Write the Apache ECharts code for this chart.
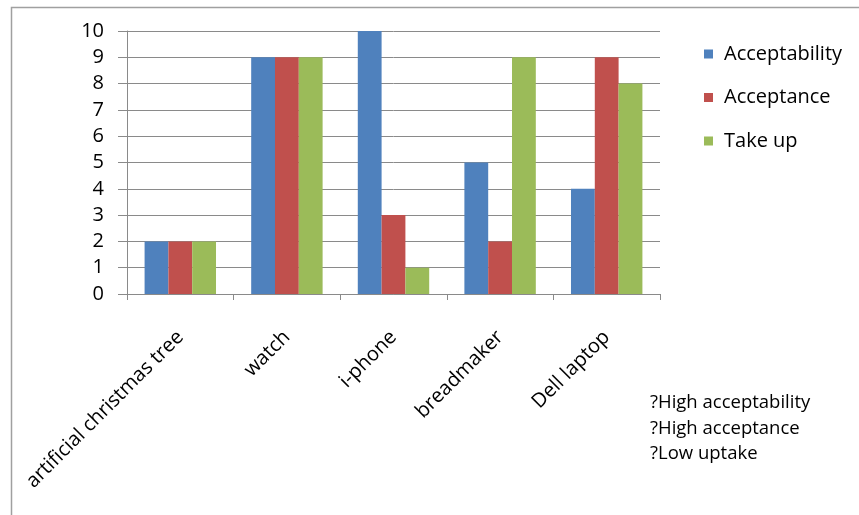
<!DOCTYPE html>
<html>
<head>
<meta charset="utf-8">
<script src="https://cdn.jsdelivr.net/npm/echarts@6/dist/echarts.min.js"></script>
<style>
html,body{margin:0;padding:0;background:#fff;}
#c{width:859px;height:515px;}
</style>
</head>
<body>
<div id="c"></div>
<script>
const categories = ["artificial christmas tree", "watch", "i-phone", "breadmaker", "Dell laptop"];
const acceptability = [2, 9, 10, 5, 4];
const acceptance = [2, 9, 3, 2, 9];
const takeUp = [2, 9, 1, 9, 8];
const yTicks = [0, 1, 2, 3, 4, 5, 6, 7, 8, 9, 10];
const notes = ["?High acceptability", "?High acceptance", "?Low uptake"];

const chart = echarts.init(document.getElementById('c'), null, {renderer: 'canvas'});
const gridColor = '#8a8a8a';
chart.setOption({
  animation: false,
  backgroundColor: '#fff',
  color: ['#4F81BD', '#C0504D', '#9BBB59'],
  grid: {left: 127, top: 31, right: 199, bottom: 221, containLabel: false},
  legend: {
    orient: 'vertical', left: 704, top: 44, padding: 0,
    itemWidth: 9, itemHeight: 9, itemGap: 23.5, icon: 'rect',
    textStyle: {fontFamily: 'Open Sans', fontSize: 20, color: '#000', padding: [0, 0, 0, 6]},
    data: ['Acceptability', 'Acceptance', 'Take up']
  },
  xAxis: {
    type: 'category', data: categories,
    axisLine: {lineStyle: {color: gridColor, width: 1}},
    axisTick: {show: true, length: 6, alignWithLabel: false, lineStyle: {color: gridColor}},
    axisLabel: {rotate: 45, margin: 40, interval: 0, fontFamily: 'Open Sans', fontSize: 20, color: '#000'}
  },
  yAxis: {
    type: 'value', min: yTicks[0], max: yTicks[yTicks.length - 1], interval: 1,
    axisLine: {show: true, lineStyle: {color: gridColor, width: 1}},
    axisTick: {show: true, inside: false, length: 9, lineStyle: {color: gridColor}},
    splitLine: {show: true, lineStyle: {color: gridColor, width: 1}},
    axisLabel: {margin: 23, fontFamily: 'Open Sans', fontSize: 20, color: '#000'}
  },
  series: [
    {name: 'Acceptability', type: 'bar', data: acceptability, barGap: '0%', barCategoryGap: '33%'},
    {name: 'Acceptance', type: 'bar', data: acceptance, barGap: '0%', barCategoryGap: '33%'},
    {name: 'Take up', type: 'bar', data: takeUp, barGap: '0%', barCategoryGap: '33%'}
  ],
  graphic: [
    {type: 'rect', left: 9, top: 5, shape: {width: 900, height: 600}, style: {fill: 'none', stroke: '#a0a0a0', lineWidth: 1.5}, z: -1},
    {type: 'text', left: 650, top: 390, style: {text: notes.join('\n'), font: '18.5px "Open Sans"', lineHeight: 25.5, fill: '#000'}}
  ]
});
</script>
</body>
</html>
